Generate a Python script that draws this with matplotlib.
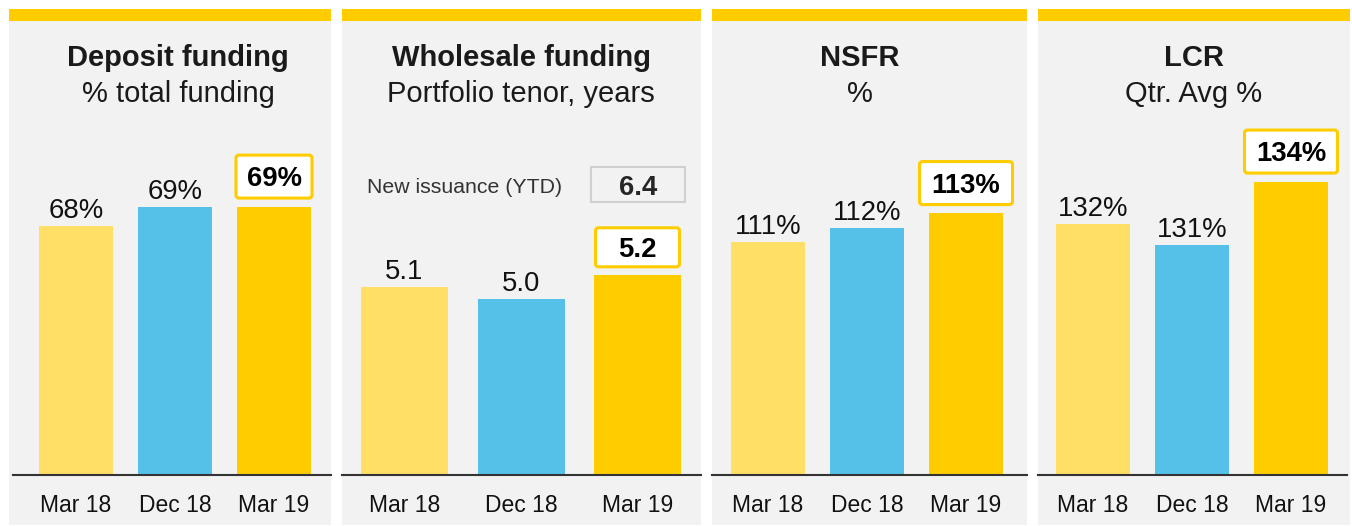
import matplotlib
matplotlib.use('Agg')
import matplotlib.pyplot as plt
from matplotlib.patches import Rectangle, FancyBboxPatch
from matplotlib.transforms import IdentityTransform

plt.rcParams['font.family'] = ['Liberation Sans', 'DejaVu Sans']

# ---------------- data ----------------
periods = ['Mar 18', 'Dec 18', 'Mar 19']
titles = ['Deposit funding', 'Wholesale funding', 'NSFR', 'LCR']
subtitles = ['% total funding', 'Portfolio tenor, years', '%', 'Qtr. Avg %']
deposit_funding = [68, 69, 69]
wholesale_tenor = [5.1, 5.0, 5.2]
nsfr = [111, 112, 113]
lcr = [132, 131, 134]
label_formats = ['{:.0f}%', '{:.1f}', '{:.0f}%', '{:.0f}%']
new_issuance_label = 'New issuance (YTD)'
new_issuance = 6.4

series = [deposit_funding, wholesale_tenor, nsfr, lcr]

# ---------------- style / layout (pixels) ----------------
W, H = 1352, 526
bar_colors = ['#FFDF66', '#55C1E8', '#FFCC00']
panel_x = [(9, 331), (342, 701), (712, 1027), (1038, 1350)]
axis_x = [(13, 331), (342, 701), (712, 1027), (1038, 1347)]
bar_c0 = [76, 404.5, 768, 1093]
bar_step = [99, 116.5, 99, 99]
bar_w = [74, 87, 74, 74]
y_base = [54.9, 3.54, 94.97, 120.05]
px_per_unit = [19.0, 120.0, 14.5, 21.0]
title_cx = [178, 521, 860, 1194]
hl_w = [79, 87, 96, 96]
hl_h = [46, 42, 46, 46]
baseline_py = 474.5
axes_top_py = 110
panel_top, panel_bottom, stripe_h = 9, 525, 12


def fx(px):
    return px / W


def fy(py):
    return 1 - py / H


fig = plt.figure(figsize=(W / 100, H / 100), dpi=100)
fig.patch.set_facecolor('white')

for k in range(4):
    l, r = panel_x[k]
    fig.add_artist(Rectangle((fx(l), fy(panel_bottom)), (r - l) / W,
                             (panel_bottom - panel_top) / H,
                             transform=fig.transFigure, fc='#F2F2F2', ec='none', zorder=0))
    fig.add_artist(Rectangle((fx(l), fy(panel_top + stripe_h)), (r - l) / W, stripe_h / H,
                             transform=fig.transFigure, fc='#FFCC00', ec='none', zorder=1))

    axl, axr = axis_x[k]
    ax = fig.add_axes([fx(axl), fy(baseline_py), (axr - axl) / W,
                       (baseline_py - axes_top_py) / H])
    ax.set_facecolor('none')
    vals = series[k]
    s = bar_step[k]
    ax.bar(range(3), vals, width=bar_w[k] / s, color=bar_colors, zorder=2)
    ax.set_xlim((axl - bar_c0[k]) / s, (axr - bar_c0[k]) / s)
    ax.set_ylim(y_base[k], y_base[k] + (baseline_py - axes_top_py) / px_per_unit[k])
    for sp in ['left', 'right', 'top']:
        ax.spines[sp].set_visible(False)
    ax.spines['bottom'].set_color('#333333')
    ax.spines['bottom'].set_linewidth(1.5)
    ax.spines['bottom'].set_zorder(3)
    ax.set_yticks([])
    ax.set_xticks(range(3))
    ax.set_xticklabels(periods, fontsize=16.5, color='#111111')
    ax.tick_params(axis='x', length=0, pad=14)

    fmt = label_formats[k]
    for i in range(2):
        ax.annotate(fmt.format(vals[i]), (i, vals[i]), xytext=(0, 8),
                    textcoords='offset pixels', ha='center', va='baseline',
                    fontsize=19.8, color='#111111')

    # highlighted latest value
    X, Y = ax.transData.transform((2, vals[2]))
    gap = 7
    w, h = hl_w[k], hl_h[k]
    box = FancyBboxPatch((X - (w - 3) / 2, Y + gap + 1.5), w - 3, h - 3,
                         boxstyle='round,pad=0,rounding_size=3',
                         transform=IdentityTransform(), fc='white', ec='#FFCC00',
                         lw=2.2, zorder=5)
    fig.add_artist(box)
    fig.text(X, Y + gap + h / 2 - 9.5, fmt.format(vals[2]), transform=IdentityTransform(),
             ha='center', va='baseline', fontsize=19.8, fontweight='bold',
             color='#000000', zorder=6)

    # titles
    fig.text(fx(title_cx[k]), fy(66), titles[k], ha='center', va='baseline',
             fontsize=21, fontweight='bold', color='#1A1A1A')
    fig.text(fx(title_cx[k]), fy(102), subtitles[k], ha='center', va='baseline',
             fontsize=21, color='#1A1A1A')

# new issuance annotation in the wholesale panel
fig.text(fx(464.5), fy(193.3), new_issuance_label, ha='center', va='baseline',
         fontsize=15.3, color='#333333')
fig.add_artist(Rectangle((fx(591), fy(202)), (685 - 591) / W, (202 - 167) / H,
                         transform=fig.transFigure, fc='#F2F2F2', ec='#D0D0D0', lw=1.5))
fig.text(fx(638), fy(194.5), '{:.1f}'.format(new_issuance), ha='center', va='baseline',
         fontsize=19.8, fontweight='bold', color='#262626')

fig.savefig('out.png', dpi=100)
